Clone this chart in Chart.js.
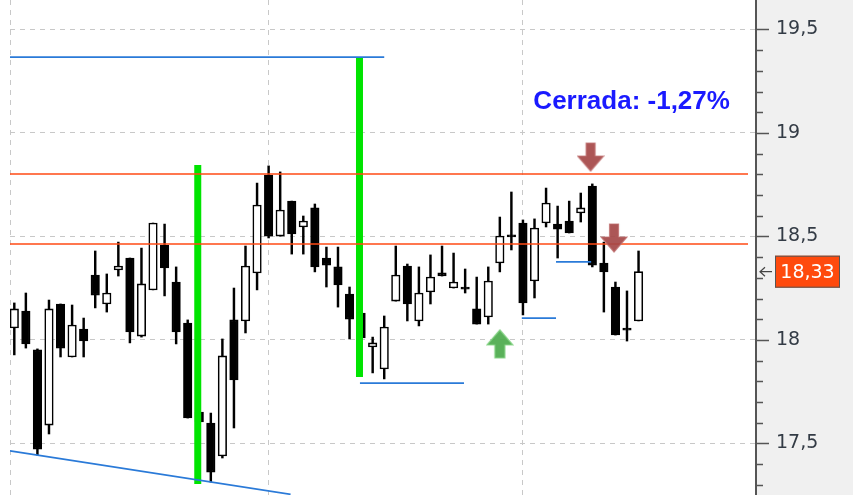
<!DOCTYPE html>
<html><head><meta charset="utf-8">
<script src="https://cdn.jsdelivr.net/npm/chart.js@4.4.0/dist/chart.umd.min.js"></script>
<style>html,body{margin:0;padding:0;background:#fff;overflow:hidden}</style>
</head><body>
<canvas id="c" width="853" height="495"></canvas>
<script>
// ---- data ----
const opens  = [18.058,18.140,17.952,17.589,18.174,17.918,18.053,18.314,18.174,18.338,18.396,18.019,18.242,18.459,18.280,18.082,17.652,17.599,17.440,18.097,18.092,18.324,18.797,18.502,18.671,18.546,18.638,18.396,18.353,18.222,18.130,17.966,17.860,18.188,18.357,18.092,18.232,18.324,18.251,18.256,18.150,18.111,18.372,18.507,18.565,18.285,18.565,18.560,18.575,18.614,18.744,18.372,18.256,18.053,18.092];
const highs  = [18.179,18.227,17.957,18.193,18.174,18.169,18.106,18.430,18.319,18.473,18.396,18.444,18.565,18.560,18.353,18.097,17.662,17.647,18.005,18.251,18.454,18.758,18.841,18.812,18.671,18.599,18.657,18.449,18.449,18.256,18.150,18.014,18.116,18.454,18.367,18.353,18.411,18.454,18.420,18.343,18.304,18.353,18.594,18.715,18.580,18.585,18.734,18.647,18.671,18.710,18.754,18.473,18.280,18.237,18.430];
const lows   = [17.928,17.961,17.444,17.546,17.918,17.918,17.918,18.155,18.135,18.309,17.986,18.014,18.242,18.213,17.981,17.623,17.594,17.314,17.430,17.575,18.034,18.242,18.493,18.502,18.415,18.415,18.329,18.256,18.159,18.005,17.986,17.841,17.812,18.188,18.092,18.068,18.174,18.309,18.251,18.227,18.077,18.077,18.329,18.435,18.121,18.203,18.546,18.396,18.517,18.570,18.353,18.135,18.024,17.995,18.092];
const closes = [18.150,17.981,17.473,18.150,17.961,18.072,17.995,18.217,18.227,18.357,18.039,18.271,18.565,18.348,18.039,17.623,17.604,17.362,17.923,17.807,18.357,18.652,18.502,18.628,18.512,18.575,18.353,18.362,18.266,18.101,18.010,17.986,18.063,18.314,18.174,18.227,18.304,18.309,18.280,18.246,18.077,18.285,18.502,18.498,18.179,18.541,18.662,18.536,18.517,18.638,18.362,18.329,18.024,18.048,18.330];

const yTickValues = [17.3,17.4,17.5,17.6,17.7,17.8,17.9,18.0,18.1,18.2,18.3,18.4,18.5,18.6,18.7,18.8,18.9,19.0,19.1,19.2,19.3,19.4,19.5];
const xGridValues = [-0.372, 22, 44];

const resistanceLevels = [18.802, 18.464];            // orange horizontal lines
const blueTopLine    = [[-0.372, 19.367], [32.0, 19.367]];
const blueTrendLine  = [[-0.372, 17.4645], [23.9, 17.2546]];
const blueSupport1   = [[29.9, 17.792], [38.9, 17.792]];
const blueSupport2   = [[43.9, 18.106], [46.86, 18.106]];
const blueSupport3   = [[46.86, 18.377], [49.9, 18.377]];
const greenBar1      = [[15.87, 18.845], [15.87, 17.304]];
const greenBar2      = [[29.86, 19.367], [29.86, 17.821]];
const upArrows       = [[42.0, 17.981]];
const downArrows     = [[49.85, 18.884], [51.88, 18.493]];
const lastPrice      = 18.33;
const noteText       = 'Cerrada: -1,27%';
const notePos        = [44.9, 19.118];

// ---- helpers ----
const idx = opens.map((_, i) => i);
const pts = arr => arr.map(p => ({x: p[0], y: p[1]}));
const isMajor = v => Math.abs(v * 2 - Math.round(v * 2)) < 1e-6;
const fmt = v => String(+v.toFixed(2)).replace('.', ',');
const noPad = s => { s.paddingTop = 0; s.paddingBottom = 0; s.paddingLeft = 0; s.paddingRight = 0; };

function makeArrow(dir, fill, edge) {
  const c = document.createElement('canvas');
  c.width = 28; c.height = 30;
  const g = c.getContext('2d');
  g.beginPath();
  if (dir === 'down') {
    g.moveTo(9.5, 1); g.lineTo(18.5, 1); g.lineTo(18.5, 14); g.lineTo(27, 14);
    g.lineTo(14, 29); g.lineTo(1, 14); g.lineTo(9.5, 14);
  } else {
    g.moveTo(14, 1); g.lineTo(27, 16); g.lineTo(19, 16); g.lineTo(19, 29);
    g.lineTo(9, 29); g.lineTo(9, 16); g.lineTo(1, 16);
  }
  g.closePath();
  g.fillStyle = fill; g.fill();
  g.strokeStyle = edge; g.lineWidth = 1.2; g.stroke();
  return c;
}
const downImg = makeArrow('down', 'rgba(165,72,72,0.92)', 'rgba(190,110,110,0.8)');
const upImg = makeArrow('up', 'rgba(76,170,76,0.92)', 'rgba(130,210,130,0.9)');

function lineDs(data, color, width) {
  return {type: 'line', data: pts(data), borderColor: color, borderWidth: width,
    pointRadius: 0, borderCapStyle: 'butt', fill: false, tension: 0, order: 1};
}

const datasets = [
  ...resistanceLevels.map(v => lineDs([[-0.372, v], [63.47, v]], '#ff4a14', 1.6)),
  lineDs(blueTopLine, '#2a7ad8', 1.8),
  lineDs(blueTrendLine, '#2a7ad8', 1.8),
  lineDs(blueSupport1, '#2a7ad8', 1.8),
  lineDs(blueSupport2, '#2a7ad8', 1.8),
  lineDs(blueSupport3, '#2a7ad8', 1.8),
  lineDs(greenBar1, '#00e400', 7),
  lineDs(greenBar2, '#00e400', 7),
  {type: 'line', data: pts(upArrows), showLine: false, pointStyle: upImg, pointRadius: 14, order: 0},
  {type: 'line', data: pts(downArrows), showLine: false, pointStyle: downImg, pointRadius: 14, order: 0},
  {type: 'bar', data: idx.map(i => ({x: i, y: [opens[i], closes[i]]})),
    backgroundColor: c => (closes[c.dataIndex] >= opens[c.dataIndex] ? '#ffffff' : '#000000'),
    borderColor: '#000', borderWidth: 1.6, borderSkipped: false, minBarLength: 2,
    grouped: false, maxBarThickness: 8.5, barPercentage: 1, categoryPercentage: 1, order: 2},
  {type: 'bar', data: idx.map(i => ({x: i, y: [lows[i], highs[i]]})),
    backgroundColor: '#000', borderWidth: 0, grouped: false, maxBarThickness: 1.8,
    barPercentage: 1, categoryPercentage: 1, order: 3}
];

const decor = {
  id: 'decor',
  beforeDraw(chart) {
    const {ctx, chartArea: a, width, height} = chart;
    ctx.save();
    ctx.fillStyle = '#ffffff'; ctx.fillRect(0, 0, width, height);
    ctx.fillStyle = '#f0f0f0'; ctx.fillRect(a.right, 0, width - a.right, height);
    ctx.restore();
  },
  afterDraw(chart) {
    const {ctx, chartArea: a, scales: {x, y}} = chart;
    ctx.save();
    // axis tick marks
    ctx.strokeStyle = '#555'; ctx.lineWidth = 1.5;
    yTickValues.forEach(v => {
      const py = Math.round(y.getPixelForValue(v)) + 0.5;
      ctx.beginPath(); ctx.moveTo(a.right, py); ctx.lineTo(a.right + (isMajor(v) ? 13 : 7), py); ctx.stroke();
    });
    // last price label
    const py = y.getPixelForValue(lastPrice);
    ctx.fillStyle = '#ff4a0d'; ctx.fillRect(a.right + 19, py - 16, 65, 32);
    ctx.strokeStyle = '#555'; ctx.lineWidth = 1;
    ctx.strokeRect(a.right + 19.5, py - 15.5, 64, 31);
    ctx.fillStyle = '#ffffff'; ctx.font = '19px "DejaVu Sans"';
    ctx.textAlign = 'center'; ctx.textBaseline = 'middle';
    ctx.fillText(fmt(lastPrice), a.right + 51.5, py + 1);
    // small arrow pointing at the axis
    ctx.strokeStyle = '#444'; ctx.lineWidth = 1.2;
    ctx.beginPath();
    ctx.moveTo(a.right + 16, py); ctx.lineTo(a.right + 4, py);
    ctx.moveTo(a.right + 9, py - 4.5); ctx.lineTo(a.right + 4, py); ctx.lineTo(a.right + 9, py + 4.5);
    ctx.stroke();
    // note text
    ctx.fillStyle = '#1a1aff'; ctx.font = 'bold 26px "Liberation Sans"';
    ctx.textAlign = 'left'; ctx.textBaseline = 'alphabetic';
    ctx.fillText(noteText, x.getPixelForValue(notePos[0]), y.getPixelForValue(notePos[1]));
    ctx.restore();
  }
};

new Chart(document.getElementById('c'), {
  type: 'bar',
  data: {datasets},
  options: {
    responsive: false, animation: false, devicePixelRatio: 1,
    layout: {autoPadding: false, padding: {left: 10, top: 0, right: 0, bottom: 0}},
    plugins: {legend: {display: false}, tooltip: {enabled: false}},
    scales: {
      x: {
        type: 'linear', min: -0.372, max: 64.16, offset: false,
        afterBuildTicks: s => { s.ticks = xGridValues.map(value => ({value})); },
        afterFit: s => { s.height = 0; noPad(s); },
        ticks: {display: false},
        grid: {color: '#c8c8c8', lineWidth: 1, drawTicks: false, offset: false},
        border: {display: false, dash: [5, 5]}
      },
      y: {
        type: 'linear', position: 'right', min: 17.2512, max: 19.6425, beginAtZero: false,
        afterBuildTicks: s => { s.ticks = yTickValues.map(value => ({value})); },
        afterFit: s => { s.width = 97; noPad(s); },
        ticks: {autoSkip: false, padding: 20, color: '#333b45',
          font: {family: '"DejaVu Sans"', size: 19},
          callback: v => (isMajor(v) ? fmt(v) : '')},
        grid: {color: c => (c.tick && isMajor(c.tick.value) ? '#c8c8c8' : 'rgba(0,0,0,0)'),
          lineWidth: 1, drawTicks: false},
        border: {display: true, color: '#555', width: 2, dash: [5, 5]}
      }
    }
  },
  plugins: [decor]
});
</script>
</body></html>
